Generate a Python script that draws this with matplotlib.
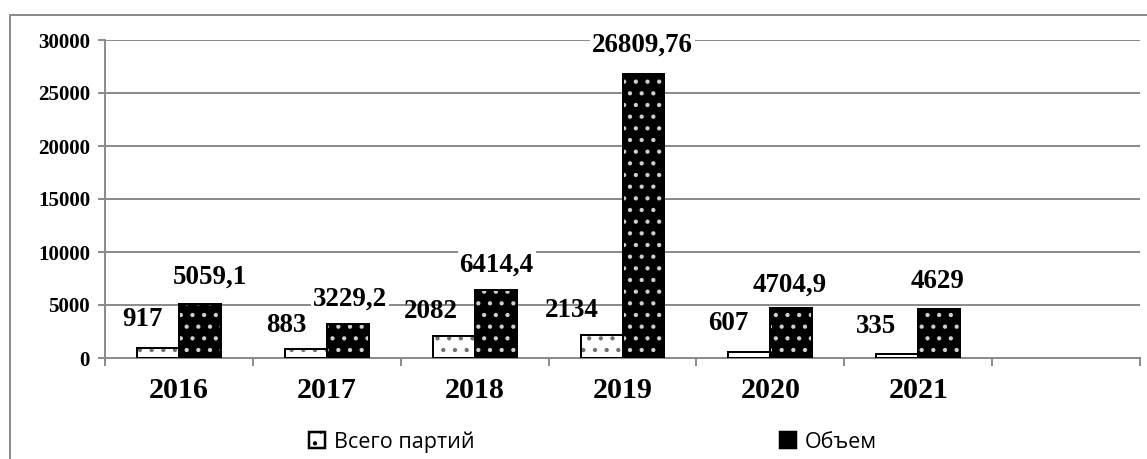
import numpy as np
import matplotlib.pyplot as plt
from matplotlib.lines import Line2D
from matplotlib.patches import Patch

years = ["2016", "2017", "2018", "2019", "2020", "2021", ""]
parties = [917, 883, 2082, 2134, 607, 335]
volume = [5059.1, 3229.2, 6414.4, 26809.76, 4704.9, 4629]
parties_txt = ["917", "883", "2082", "2134", "607", "335"]
volume_txt = ["5059,1", "3229,2", "6414,4", "26809,76", "4704,9", "4629"]

# label nudges in pixels: (dx, dy from bar top to text baseline)
parties_off = [(-15, 22), (-19, 17), (-23, 18), (-30, 18), (-21, 22), (-21, 21)]
volume_off = [(10, 21), (2, 18), (1, 18), (-1, 22), (-2, 16), (-2, 21)]

# low dpi keeps the dotted hatch as sparse as in a spreadsheet fill
DPI = 70
PX = 72 / DPI          # points per pixel
W, H = 1147, 459
GRID = "#8c8c8c"
serif = "Liberation Serif"

fig = plt.figure(figsize=(W / DPI, H / DPI), dpi=DPI)
# chart frame: only the top and left edges fall inside the image
fig.lines.append(Line2D([9.5 / W, 9.5 / W, 1], [0, 1 - 14.5 / H, 1 - 14.5 / H],
                        transform=fig.transFigure, color=GRID, linewidth=2 * PX))
ax = fig.add_axes([105 / W, 101 / H, 1035 / W, 318 / H])

x = np.arange(len(parties))
w = 0.284

plt.rcParams["hatch.linewidth"] = 1.9 * PX
ax.bar(x - w / 2, parties, w, facecolor="white", edgecolor="#707070",
       hatch=".", linewidth=0, zorder=3)
ax.bar(x - w / 2, parties, w, fill=False, edgecolor="black", linewidth=2 * PX, zorder=4)
ax.bar(x + w / 2, volume, w, facecolor="black", edgecolor="#d0d0d0",
       hatch=".", linewidth=0, zorder=3)
ax.bar(x + w / 2, volume, w, fill=False, edgecolor="black", linewidth=2 * PX, zorder=4)

for i in range(len(parties)):
    ax.annotate(parties_txt[i], (x[i] - w / 2, parties[i]),
                xytext=parties_off[i], textcoords="offset pixels",
                ha="center", va="baseline", fontsize=27 * PX,
                fontweight="bold", family=serif, zorder=5)
    ax.annotate(volume_txt[i], (x[i] + w / 2, volume[i]),
                xytext=volume_off[i], textcoords="offset pixels",
                ha="center", va="baseline", fontsize=27 * PX,
                fontweight="bold", family=serif, zorder=5,
                bbox=dict(facecolor="white", edgecolor="none", pad=2 * PX))

ax.set_xlim(-0.5, 6.5)
ax.set_ylim(0, 30000)
ax.set_yticks(range(0, 30001, 5000))
ax.yaxis.grid(True, color=GRID, linewidth=2 * PX, zorder=0)
ax.set_axisbelow(True)

ax.set_xticks(np.arange(7))
ax.set_xticklabels(years, fontsize=30 * PX, fontweight="bold", family=serif)
ax.set_xticks(np.arange(-0.5, 7, 1), minor=True)
ax.tick_params(axis="x", which="major", length=0, pad=19 * PX)
ax.tick_params(axis="x", which="minor", length=8 * PX, width=2 * PX, color=GRID)
ax.tick_params(axis="y", length=7 * PX, width=2 * PX, color=GRID, pad=8 * PX)
for lbl in ax.get_yticklabels():
    lbl.set_fontsize(21 * PX)
    lbl.set_fontweight("bold")
    lbl.set_family(serif)

for side in ["top", "right"]:
    ax.spines[side].set_visible(False)
for side in ["left", "bottom"]:
    ax.spines[side].set_color(GRID)
    ax.spines[side].set_linewidth(2 * PX)

handles = [Patch(facecolor="white", edgecolor="black", hatch=".", linewidth=2.5 * PX),
           Patch(facecolor="black", edgecolor="black", hatch=".", linewidth=2.5 * PX)]
fig.legend(handles, ["Всего партий", "Объем"], loc="center left",
           bbox_to_anchor=(290 / W, 1 - 442 / H), ncol=2, frameon=False,
           prop={"family": "Open Sans", "size": 21.5 * PX}, handlelength=0.75,
           handleheight=0.75, handletextpad=0.4, columnspacing=14.2)

fig.savefig("out.png", dpi=DPI)
